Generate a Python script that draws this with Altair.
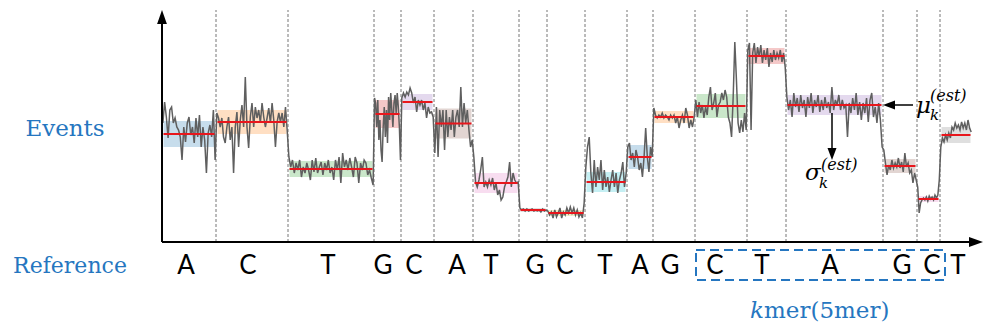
import altair as alt
import pandas as pd

# ---------------- data (x: sample time, y: current level) ----------------
bases = ["A", "C", "T", "G", "C", "A", "T", "G", "C", "T", "A", "G", "C", "T", "A", "G", "C", "T"]
base_pos = [24, 86, 166, 221, 252, 295, 329, 373, 403, 443, 478, 508, 553, 600, 668, 740, 770, 796]
bounds = [0, 54, 126, 212, 239, 272, 311, 357, 385, 423, 465, 491, 533, 585, 624, 721, 755, 778, 810]
means = [108, 120, 73, 128, 140, 118.5, 59, 32, 29, 60, 85, 125, 136, 186, 137, 76, 43, 107]
stds = [13, 12, 8, 14, 8, 15, 10, 2, 3, 10, 12, 6, 12, 8, 10, 7, 3, 8]
band_colors = ["#1f77b4", "#ff7f0e", "#2ca02c", "#d62728", "#9467bd",
               "#8c564b", "#e377c2", "#7f7f7f", "#bcbd22", "#17becf"]

s1 = [119, 140, 125, 104, 132, 135, 119, 124, 115, 112, 105, 82, 115, 100, 119, 125, 107, 115, 99, 124, 105, 127, 95, 115, 102, 69, 109, 117, 105, 132, 82]
s2 = [129, 124, 115, 124, 105, 99, 115, 125, 102, 115, 69, 115, 130, 95, 122, 137, 115, 165, 115, 94, 125, 139, 115, 135, 124, 132, 119, 139, 125, 115, 124, 134, 119, 139, 122, 95, 120, 129, 120, 129, 115, 135, 112]
s3 = [85, 75, 82, 69, 79, 72, 82, 65, 75, 69, 79, 72, 62, 82, 70, 84, 69, 75, 80, 67, 79, 72, 82, 69, 75, 62, 82, 72, 85, 59, 89, 75, 82, 72, 84, 75, 65, 85, 79, 59, 79, 72, 82, 79, 67, 72, 64, 57]
s4 = [144, 139, 115, 142, 102, 122, 92, 80, 115, 135, 105, 132, 99, 145, 122, 149, 132, 115, 139, 147, 129, 149, 135, 115, 82]
s5 = [144, 149, 145, 150, 147, 154, 149, 139, 145, 130, 142, 137, 142, 132, 139, 124, 135, 129, 130, 125]
s6 = [89, 135, 85, 132, 115, 132, 92, 132, 105, 125, 112, 132, 105, 125, 132, 115, 155, 115, 139, 119, 132, 112, 95, 102]
s7 = [85, 60, 55, 62, 72, 85, 55, 60, 55, 62, 57, 64, 52, 59, 47, 52, 42, 45, 55, 60, 65, 80, 55, 69, 62, 59, 60]
s8 = [34, 32, 33, 31, 33, 31, 32, 33, 31, 32, 31, 32, 30, 33, 31, 32]
s9 = [31, 27, 30, 24, 32, 25, 29, 34, 24, 30, 27, 34, 29, 35, 29, 34, 27, 32, 25, 29, 24, 39]
s10 = [75, 95, 105, 69, 49, 82, 55, 75, 62, 82, 52, 72, 55, 65, 50, 62, 72, 55, 69, 49, 62, 69, 80, 55, 69]
s11 = [95, 99, 82, 89, 75, 92, 85, 72, 79, 65, 85, 114, 85, 70, 95, 85]
s12 = [134, 127, 124, 127, 125, 129, 124, 127, 125, 122, 127, 124, 127, 119, 125, 114, 122, 127, 119, 134, 127, 114, 122, 115, 125]
s13 = [142, 125, 140, 129, 137, 124, 135, 127, 145, 155, 132, 139, 149, 125, 137, 140, 149, 142, 152, 145, 125, 119, 105, 145, 200, 162, 119, 109, 122, 110, 129, 112]
s14 = [192, 199, 112, 189, 199, 179, 195, 185, 197, 179, 192, 182, 194, 175, 189, 180, 192, 182, 189, 184, 192, 180, 189, 175]
s15 = [145, 132, 142, 125, 149, 135, 144, 130, 147, 134, 142, 125, 145, 134, 149, 129, 142, 135, 147, 130, 142, 132, 145, 134, 140, 129, 155, 132, 142, 137, 147, 132, 142, 134, 137, 105, 139, 129, 144, 132, 149, 127, 140, 122, 139, 129, 144, 120, 142, 149, 125, 135, 119, 139, 122, 95]
s16 = [92, 79, 67, 77, 72, 82, 74, 79, 75, 84, 74, 80, 70, 89, 75, 79, 69, 72, 59, 69, 62]
s17 = [55, 29, 39, 42, 44, 42, 45, 41, 46, 43, 45, 42, 47, 44, 47, 62]
s18 = [95, 104, 100, 107, 102, 109, 104, 115, 112, 119, 114, 117, 112, 120, 114, 119, 112, 122, 114, 110]
signal = [s1, s2, s3, s4, s5, s6, s7, s8, s9, s10, s11, s12, s13, s14, s15, s16, s17, s18]

XMAX, YMAX = 813, 232

# ---------------- tables ----------------
seg_df = pd.DataFrame({
    "x0": [bounds[i] + 1.5 for i in range(18)],
    "x1": [bounds[i + 1] - 1.5 for i in range(18)],
    "mean": means,
    "lo": [m - s for m, s in zip(means, stds)],
    "hi": [m + s for m, s in zip(means, stds)],
    "color": [band_colors[i % 10] for i in range(18)],
})

sx, sy = [], []
for i, vals in enumerate(signal):
    a, b = bounds[i], bounds[i + 1]
    n = len(vals)
    for j, v in enumerate(vals):
        sx.append(a + (j + 0.5) * (b - a) / n)
        sy.append(v)
sig_df = pd.DataFrame({"x": sx, "y": sy})

bnd_df = pd.DataFrame({"x": bounds[1:-1], "y0": [0] * 17, "y1": [YMAX] * 17})
base_df = pd.DataFrame({"x": base_pos, "y": [-32] * len(bases), "t": bases})

xs = alt.Scale(domain=[0, XMAX], nice=False, zero=False)
ys = alt.Scale(domain=[0, YMAX], nice=False, zero=False)


def X(f):
    return alt.X(f, type="quantitative", scale=xs, axis=None)


def Y(f):
    return alt.Y(f, type="quantitative", scale=ys, axis=None)


BLUE = "#2576c0"
SERIF = "DejaVu Serif"

# vertical dashed boundaries
bnd = alt.Chart(bnd_df).mark_rule(color="#777777", strokeWidth=1, strokeDash=[3, 2]).encode(
    x=X("x"), y=Y("y0"), y2="y1")

# shaded std bands
bands = alt.Chart(seg_df).mark_rect(opacity=0.25).encode(
    x=X("x0"), x2="x1", y=Y("lo"), y2="hi", color=alt.Color("color:N", scale=None))

# raw signal
sig = alt.Chart(sig_df).mark_line(color="#5f5f5f", strokeWidth=1.5).encode(
    x=X("x"), y=Y("y"), order="x:Q")

# estimated means
red = alt.Chart(seg_df).mark_rule(color="#e8161c", strokeWidth=2).encode(
    x=X("x0"), x2="x1", y=Y("mean"))

# axes with arrowheads
ax_df = pd.DataFrame({"x": [0, 0], "x2": [XMAX + 2, 0], "y": [0, 0], "y2": [0, YMAX - 8]})
axes = alt.Chart(ax_df).mark_rule(color="black", strokeWidth=2).encode(
    x=X("x"), x2="x2", y=Y("y"), y2="y2")
up_head = alt.Chart(pd.DataFrame({"x": [0], "y": [YMAX - 7]})).mark_point(
    shape="M0,-1L-0.7,1L0.7,1Z", size=196, filled=True, color="black", opacity=1).encode(x=X("x"), y=Y("y"))
right_head = alt.Chart(pd.DataFrame({"x": [XMAX + 1], "y": [0]})).mark_point(
    shape="M1,0L-1,-0.7L-1,0.7Z", size=196, filled=True, color="black", opacity=1).encode(x=X("x"), y=Y("y"))

# annotation arrows (mu and sigma)
arr_df = pd.DataFrame({"x": [731, 670], "x2": [751, 670], "y": [137, 129], "y2": [137, 94]})
arrows = alt.Chart(arr_df).mark_rule(color="black", strokeWidth=1.5).encode(
    x=X("x"), x2="x2", y=Y("y"), y2="y2")
left_head = alt.Chart(pd.DataFrame({"x": [727], "y": [137]})).mark_point(
    shape="M-1,0L1,-0.75L1,0.75Z", size=144, filled=True, color="black", opacity=1).encode(x=X("x"), y=Y("y"))
down_head = alt.Chart(pd.DataFrame({"x": [670], "y": [88]})).mark_point(
    shape="M0,1L-0.75,-1L0.75,-1Z", size=144, filled=True, color="black", opacity=1).encode(x=X("x"), y=Y("y"))

# base letters
letters = alt.Chart(base_df).mark_text(font="Lato", fontSize=26, color="black", align="center",
                                       baseline="alphabetic").encode(x=X("x"), y=Y("y"), text="t:N")

# blue serif labels
lab_c = alt.Chart(pd.DataFrame({"x": [-97, -92], "y": [106, -31], "t": ["Events", "Reference"],
                                "s": [23, 22]})).mark_text(
    font=SERIF, color=BLUE, align="center", baseline="alphabetic").encode(
    x=X("x"), y=Y("y"), text="t:N", size=alt.Size("s:Q", scale=None))
kmer_k = alt.Chart(pd.DataFrame({"x": [588], "y": [-76], "t": ["k"]})).mark_text(
    font=SERIF, fontSize=23, fontStyle="italic", color=BLUE, align="left",
    baseline="alphabetic").encode(x=X("x"), y=Y("y"), text="t:N")
kmer_rest = alt.Chart(pd.DataFrame({"x": [602], "y": [-76], "t": ["mer(5mer)"]})).mark_text(
    font=SERIF, fontSize=23, color=BLUE, align="left",
    baseline="alphabetic").encode(x=X("x"), y=Y("y"), text="t:N")

# dashed k-mer box
box = alt.Chart(pd.DataFrame({"x": [534], "x2": [783], "y": [-8], "y2": [-38]})).mark_rect(
    fillOpacity=0, stroke=BLUE, strokeWidth=2, strokeDash=[9, 5]).encode(
    x=X("x"), x2="x2", y=Y("y"), y2="y2")

# math labels
greek = alt.Chart(pd.DataFrame({"x": [754, 643], "y": [129, 62], "t": ["μ", "σ"]})).mark_text(
    font=SERIF, fontSize=23, fontStyle="italic", color="black", align="left",
    baseline="alphabetic").encode(x=X("x"), y=Y("y"), text="t:N")
subs = alt.Chart(pd.DataFrame({"x": [768, 657], "y": [122, 54], "t": ["k", "k"]})).mark_text(
    font=SERIF, fontSize=15, fontStyle="italic", color="black", align="left",
    baseline="alphabetic").encode(x=X("x"), y=Y("y"), text="t:N")
sups = alt.Chart(pd.DataFrame({"x": [768, 659], "y": [141, 72], "t": ["(est)", "(est)"]})).mark_text(
    font=SERIF, fontSize=16, fontStyle="italic", color="black", align="left",
    baseline="alphabetic").encode(x=X("x"), y=Y("y"), text="t:N")

chart = alt.layer(
    bnd, bands, sig, red, axes, up_head, right_head, arrows, left_head, down_head,
    letters, lab_c, kmer_k, kmer_rest, box, greek, subs, sups
).properties(
    width=XMAX, height=YMAX,
    autosize=alt.AutoSizeParams(type="none"),
    padding={"left": 162, "top": 10, "right": 9, "bottom": 89},
    background="white",
).configure_view(stroke=None)

chart.save("out.html", embed_options={"renderer": "svg", "actions": False})
